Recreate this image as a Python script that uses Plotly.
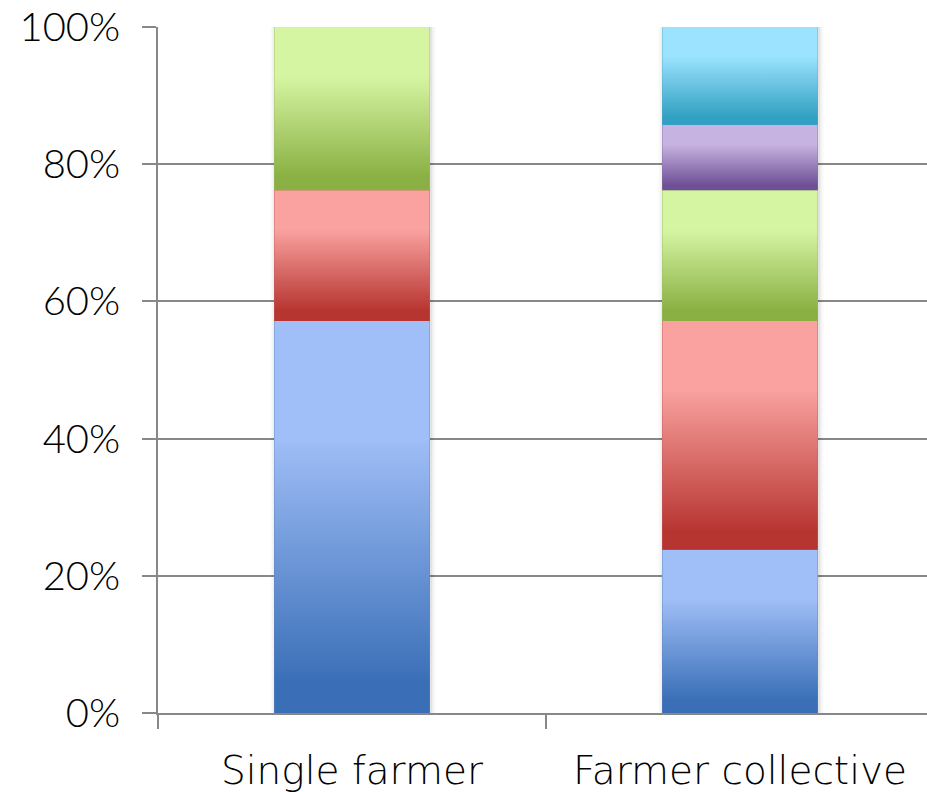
import plotly.graph_objects as go

# ---- data (percent of respondents) ----
categories = ["Single farmer", "Farmer collective"]
blue_values = [57.14, 23.81]
red_values = [19.05, 33.33]
green_values = [23.81, 19.05]
purple_values = [0.0, 9.52]
cyan_values = [0.0, 14.29]
series_names = ["Series A", "Series B", "Series C", "Series D", "Series E"]
y_tick_values = [0, 20, 40, 60, 80, 100]
y_tick_labels = ["0%", "20%", "40%", "60%", "80%", "100%"]

# ---- styling ----
series_list = [blue_values, red_values, green_values, purple_values, cyan_values]
gradients = [
    ("#3A6FB7", "#A0BEF7"),
    ("#B73531", "#F9A29F"),
    ("#8AB043", "#D6F5A3"),
    ("#6F5096", "#C7B3E1"),
    ("#32A0C2", "#9BE3FE"),
]
mid_colors = ["#6E96D6", "#D86B68", "#B0D273", "#9B82BC", "#66C1DF"]
BAR_W = 0.4
FONT = "Lato, 'Open Sans', sans-serif"
XFONT = "'DejaVu Sans', Lato, sans-serif"
AXIS_GRAY = "#888888"
PX_X = 1 / 388.0      # one pixel in x data units
PX_Y = 100 / 686.0    # one pixel in y data units

x_pos = list(range(len(categories)))

fig = go.Figure()

# soft shadow behind each whole bar (size from the summed values)
totals = [sum(s[i] for s in series_list) for i in x_pos]
for spread, alpha in [(5, 0.025), (3, 0.035), (1.5, 0.05)]:
    for i, tot in zip(x_pos, totals):
        x0 = i - BAR_W / 2 - spread * PX_X + 1 * PX_X
        x1 = i + BAR_W / 2 + spread * PX_X + 1 * PX_X
        y0 = 0 - spread * PX_Y
        y1 = tot + spread * PX_Y * 0.5
        fig.add_trace(go.Scatter(
            x=[x0, x1, x1, x0, x0], y=[y0, y0, y1, y1, y0],
            mode="lines", fill="toself", line=dict(width=0),
            fillcolor=f"rgba(0,0,0,{alpha})",
            showlegend=False, hoverinfo="skip",
        ))

# stacked bars (the data marks)
for name, vals, col in zip(series_names, series_list, mid_colors):
    fig.add_trace(go.Bar(
        x=x_pos, y=vals, name=name, width=BAR_W,
        marker=dict(color=col, line=dict(width=0)),
        showlegend=False, hoverinfo="skip",
    ))

# gradient overlays computed from the same values
bases = [0.0] * len(categories)
for name, vals, (dark, light) in zip(series_names, series_list, gradients):
    for i, v in enumerate(vals):
        if v > 0:
            b = bases[i]
            x0, x1 = i - BAR_W / 2, i + BAR_W / 2
            fig.add_trace(go.Scatter(
                x=[x0, x1, x1, x0, x0],
                y=[b, b, b + v, b + v, b],
                mode="lines", fill="toself",
                line=dict(width=0),
                fillgradient=dict(
                    type="vertical",
                    colorscale=[[0, dark], [0.08, dark], [0.7, light], [1, light]],
                ),
                showlegend=False, hoverinfo="skip", name=name,
            ))
        bases[i] += v

fig.update_layout(
    barmode="stack",
    width=927, height=792,
    margin=dict(l=158, r=0, t=27, b=79),
    paper_bgcolor="white", plot_bgcolor="white",
    font=dict(family=FONT, size=40, color="black"),
    showlegend=False,
)

fig.update_xaxes(
    range=[-0.5, -0.5 + 769 / 388],
    tickvals=x_pos, ticktext=categories,
    ticks="", showgrid=False, zeroline=False,
    showline=True, linecolor=AXIS_GRAY, linewidth=1.5,
    ticklabelstandoff=22,
    minor=dict(tickvals=[-0.5, 0.5, 1.5], ticks="outside", ticklen=14,
               tickcolor=AXIS_GRAY, tickwidth=1.5, showgrid=False),
    tickfont=dict(family=XFONT, size=39, weight=300),
)
fig.update_yaxes(
    range=[0, 100],
    tickvals=y_tick_values, ticktext=y_tick_labels,
    ticks="outside", ticklen=14, tickcolor=AXIS_GRAY, tickwidth=1.5,
    showgrid=True, gridcolor=AXIS_GRAY, gridwidth=1.5,
    zeroline=False,
    showline=True, linecolor=AXIS_GRAY, linewidth=1.5,
    ticklabelstandoff=14,
    tickfont=dict(size=40, weight=300),
)

fig.write_html("out.html")
